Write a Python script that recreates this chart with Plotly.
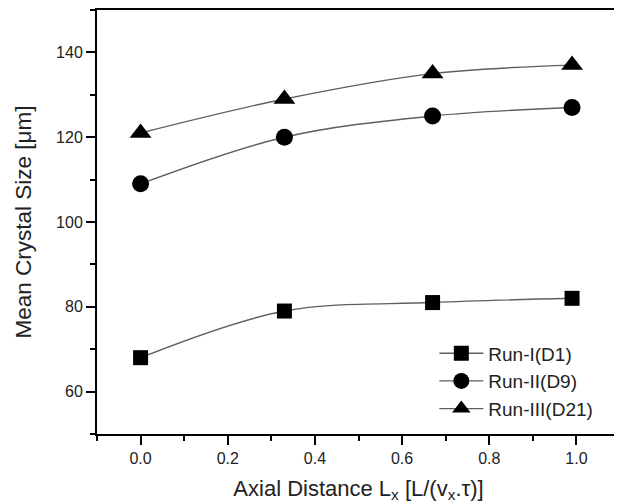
import plotly.graph_objects as go

x_vals = [0.0, 0.33, 0.67, 0.99]
run1 = [68, 79, 81, 82]
run2 = [109, 120, 125, 127]
run3 = [121, 129, 135, 137]
names = ["Run-I(D1)", "Run-II(D9)", "Run-III(D21)"]
symbols = ["square", "circle", "triangle-up"]
sizes = [15, 17, 19]

FONT = "Liberation Sans, Arial"
fig = go.Figure()
for ys, nm, sym, sz in zip([run1, run2, run3], names, symbols, sizes):
    fig.add_trace(go.Scatter(
        x=x_vals, y=ys, name=nm, mode="lines+markers",
        line=dict(shape="spline", smoothing=1.0, color="#5f5f5f", width=1.4),
        marker=dict(symbol=sym, size=sz, color="black"),
    ))

axis_common = dict(
    showline=True, linecolor="black", linewidth=2, mirror=True,
    ticks="outside", ticklen=9, tickwidth=1.6, tickcolor="black",
    showgrid=False, zeroline=False, automargin=False,
    tickfont=dict(family=FONT, size=16, color="#222"),
)

fig.update_xaxes(
    range=[-0.1, 1.1], dtick=0.2, tick0=0, tickformat=".1f",
    minor=dict(dtick=0.1, ticklen=5, tickwidth=1.6, tickcolor="black", ticks="outside"),
    title=dict(text="Axial Distance L<sub>x</sub> [L/(v<sub>x</sub>.τ)]",
               font=dict(family=FONT, size=22, color="#222"), standoff=14),
    **axis_common,
)
fig.update_yaxes(
    range=[50, 150], dtick=20, tick0=60,
    minor=dict(dtick=10, ticklen=5, tickwidth=1.6, tickcolor="black", ticks="outside"),
    title=dict(text="Mean Crystal Size [μm]",
               font=dict(family=FONT, size=22.5, color="#222"), standoff=18),
    **axis_common,
)

# the page body has an 8px margin, so the figure is shrunk by 8px each way
fig.update_layout(
    width=614, height=496,
    margin=dict(l=89, r=2, t=2, b=70),
    plot_bgcolor="white", paper_bgcolor="white",
    showlegend=True,
    legend=dict(x=0.645, y=0.235, xanchor="left", yanchor="top",
                bgcolor="rgba(0,0,0,0)", borderwidth=0,
                font=dict(family=FONT, size=19, color="#222"),
                tracegroupgap=0, itemwidth=44),
)

fig.write_html("out.html")
